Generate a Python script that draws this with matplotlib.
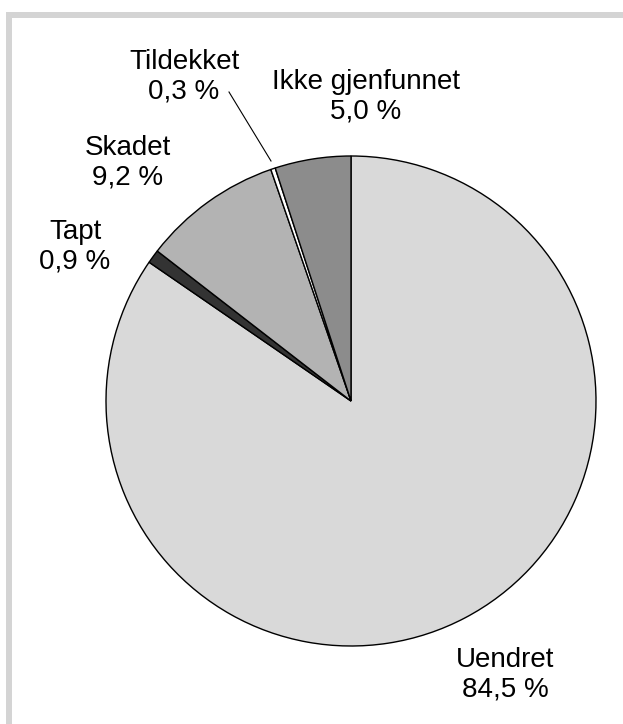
import matplotlib.pyplot as plt
from matplotlib.patches import Rectangle

plt.rcParams['font.family'] = ['Liberation Sans', 'DejaVu Sans']

# data (clockwise from top)
kategorier = ["Uendret", "Tapt", "Skadet", "Tildekket", "Ikke gjenfunnet"]
andeler = [84.5, 0.9, 9.2, 0.3, 5.0]
etiketter = ["84,5 %", "0,9 %", "9,2 %", "0,3 %", "5,0 %"]
farger = ["#d9d9d9", "#333333", "#b3b3b3", "#ffffff", "#8c8c8c"]

W, H = 623, 724
fig = plt.figure(figsize=(W / 100, H / 100), dpi=100)
ax = fig.add_axes([0, 0, 1, 1])

# grey frame (left and top only)
ax.add_patch(Rectangle((6, 0), 5.5, H - 12, color="#d4d4d4", lw=0))
ax.add_patch(Rectangle((6, H - 17.5), W, 5.5, color="#d4d4d4", lw=0))

cx, cy, r = 351, H - 401, 245
ax.pie(andeler, colors=farger, startangle=90, counterclock=False,
       center=(cx, cy), radius=r, frame=True,
       wedgeprops=dict(edgecolor="black", linewidth=1.0))
ax.set_xlim(0, W)
ax.set_ylim(0, H)
ax.set_aspect('equal')
ax.axis('off')

# label positions in pixels: centre x, baseline of first line
pos = {
    "Uendret": (505, 667),
    "Tapt": (75, 239),
    "Skadet": (128, 155),
    "Tildekket": (184, 69),
    "Ikke gjenfunnet": (366, 89),
}
for navn, tekst in zip(kategorier, etiketter):
    px, py = pos[navn]
    ax.text(px, H - py, navn, ha="center", va="baseline", fontsize=20)
    ax.text(px, H - py - 30, tekst, ha="center", va="baseline", fontsize=20)

# leader line for Tildekket
ax.plot([229, 271], [H - 92, H - 161], color="black", lw=0.8)

fig.savefig("out.png", dpi=100)
